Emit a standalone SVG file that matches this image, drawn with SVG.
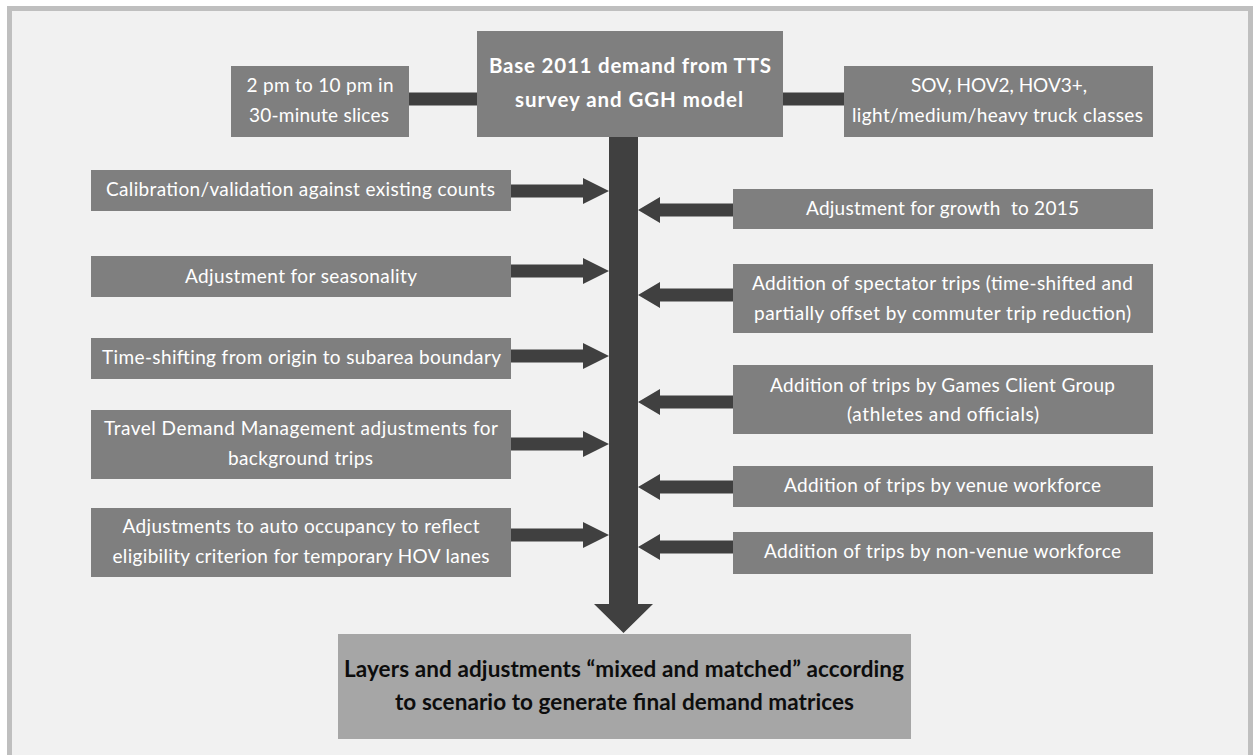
<svg xmlns="http://www.w3.org/2000/svg" width="1255" height="755" viewBox="0 0 1255 755">
<defs>
<style>
.frame{fill:#f1f1f1;stroke:#bfbfbf;stroke-width:5}
.box{fill:#7f7f7f}
.final{fill:#a6a6a6}
.t{font-family:Lato,"Liberation Sans",sans-serif;font-size:19px;fill:#ffffff;text-anchor:middle}
.tb{font-family:Lato,"Liberation Sans",sans-serif;font-size:20.5px;font-weight:bold;fill:#ffffff;text-anchor:middle}
.tf{font-family:Lato,"Liberation Sans",sans-serif;font-size:22.5px;font-weight:bold;fill:#0d0d0d;text-anchor:middle}
.c{fill:#404040}
</style>
</defs>
<rect class="frame" x="9.5" y="8.5" width="1241" height="800"/>

<g id="connectors">
<rect class="c" x="408" y="92.5" width="70" height="13"/>
<rect class="c" x="782" y="92.5" width="63" height="13"/>
<polygon class="c" points="609,136 638,136 638,604 653,604 623.5,633 594,604 609,604"/>
<polygon class="c" points="510,184.5 583,184.5 583,178 609,191 583,204 583,197.5 510,197.5"/>
<polygon class="c" points="510,264.5 583,264.5 583,258 609,271 583,284 583,277.5 510,277.5"/>
<polygon class="c" points="510,349.5 583,349.5 583,343 609,356 583,369 583,362.5 510,362.5"/>
<polygon class="c" points="510,437.5 583,437.5 583,431 609,444 583,457 583,450.5 510,450.5"/>
<polygon class="c" points="510,528.5 583,528.5 583,522 609,535 583,548 583,541.5 510,541.5"/>
<polygon class="c" points="734,203.5 660,203.5 660,197 638,210 660,223 660,216.5 734,216.5"/>
<polygon class="c" points="734,288.5 660,288.5 660,282 638,295 660,308 660,301.5 734,301.5"/>
<polygon class="c" points="734,395.5 660,395.5 660,389 638,402 660,415 660,408.5 734,408.5"/>
<polygon class="c" points="734,480.5 660,480.5 660,474 638,487 660,500 660,493.5 734,493.5"/>
<polygon class="c" points="734,540.5 660,540.5 660,534 638,547 660,560 660,553.5 734,553.5"/>
</g>

<g id="base">
<rect class="box" x="477" y="31" width="306" height="106"/>
<text class="tb" x="630" y="73" textLength="282">Base 2011 demand from TTS</text>
<text class="tb" x="629" y="107" textLength="228">survey and GGH model</text>
</g>

<g id="time-slices">
<rect class="box" x="231" y="66" width="178" height="71"/>
<text class="t" x="320" y="92" textLength="147">2 pm to 10 pm in</text>
<text class="t" x="319" y="122" textLength="140">30-minute slices</text>
</g>

<g id="vehicle-classes">
<rect class="box" x="844" y="66" width="309" height="71"/>
<text class="t" x="999" y="92" textLength="176">SOV, HOV2, HOV3+,</text>
<text class="t" x="997.5" y="122" textLength="291">light/medium/heavy truck classes</text>
</g>

<g id="calibration">
<rect class="box" x="91" y="170" width="420" height="41"/>
<text class="t" x="300.5" y="195.5" textLength="389">Calibration/validation against existing counts</text>
</g>

<g id="seasonality">
<rect class="box" x="91" y="256" width="420" height="41"/>
<text class="t" x="301" y="282.5" textLength="232">Adjustment for seasonality</text>
</g>

<g id="time-shifting">
<rect class="box" x="91" y="338" width="420" height="41"/>
<text class="t" x="301.5" y="363.5" textLength="399">Time-shifting from origin to subarea boundary</text>
</g>

<g id="tdm">
<rect class="box" x="91" y="410" width="420" height="69"/>
<text class="t" x="301" y="435" textLength="394">Travel Demand Management adjustments for</text>
<text class="t" x="300.5" y="465" textLength="145">background trips</text>
</g>

<g id="auto-occupancy">
<rect class="box" x="91" y="508" width="420" height="69"/>
<text class="t" x="301" y="533" textLength="357">Adjustments to auto occupancy to reflect</text>
<text class="t" x="301" y="563" textLength="377">eligibility criterion for temporary HOV lanes</text>
</g>

<g id="growth">
<rect class="box" x="733" y="189" width="420" height="40"/>
<text class="t" x="942.5" y="215" textLength="273" xml:space="preserve">Adjustment for growth  to 2015</text>
</g>

<g id="spectator">
<rect class="box" x="733" y="264" width="420" height="69"/>
<text class="t" x="942.5" y="290" textLength="381">Addition of spectator trips (time-shifted and</text>
<text class="t" x="942.5" y="320" textLength="377">partially offset by commuter trip reduction)</text>
</g>

<g id="games-client">
<rect class="box" x="733" y="365" width="420" height="69"/>
<text class="t" x="942.5" y="392" textLength="345">Addition of trips by Games Client Group</text>
<text class="t" x="943" y="421" textLength="192">(athletes and officials)</text>
</g>

<g id="venue-workforce">
<rect class="box" x="733" y="466" width="420" height="41"/>
<text class="t" x="942.5" y="491.5" textLength="317">Addition of trips by venue workforce</text>
</g>

<g id="non-venue-workforce">
<rect class="box" x="733" y="532" width="420" height="42"/>
<text class="t" x="942.5" y="557.5" textLength="357">Addition of trips by non-venue workforce</text>
</g>

<g id="final">
<rect class="final" x="338" y="634" width="573" height="105"/>
<text class="tf" x="624" y="677" textLength="560">Layers and adjustments “mixed and matched” according</text>
<text class="tf" x="624.5" y="710" textLength="459">to scenario to generate final demand matrices</text>
</g>
</svg>
